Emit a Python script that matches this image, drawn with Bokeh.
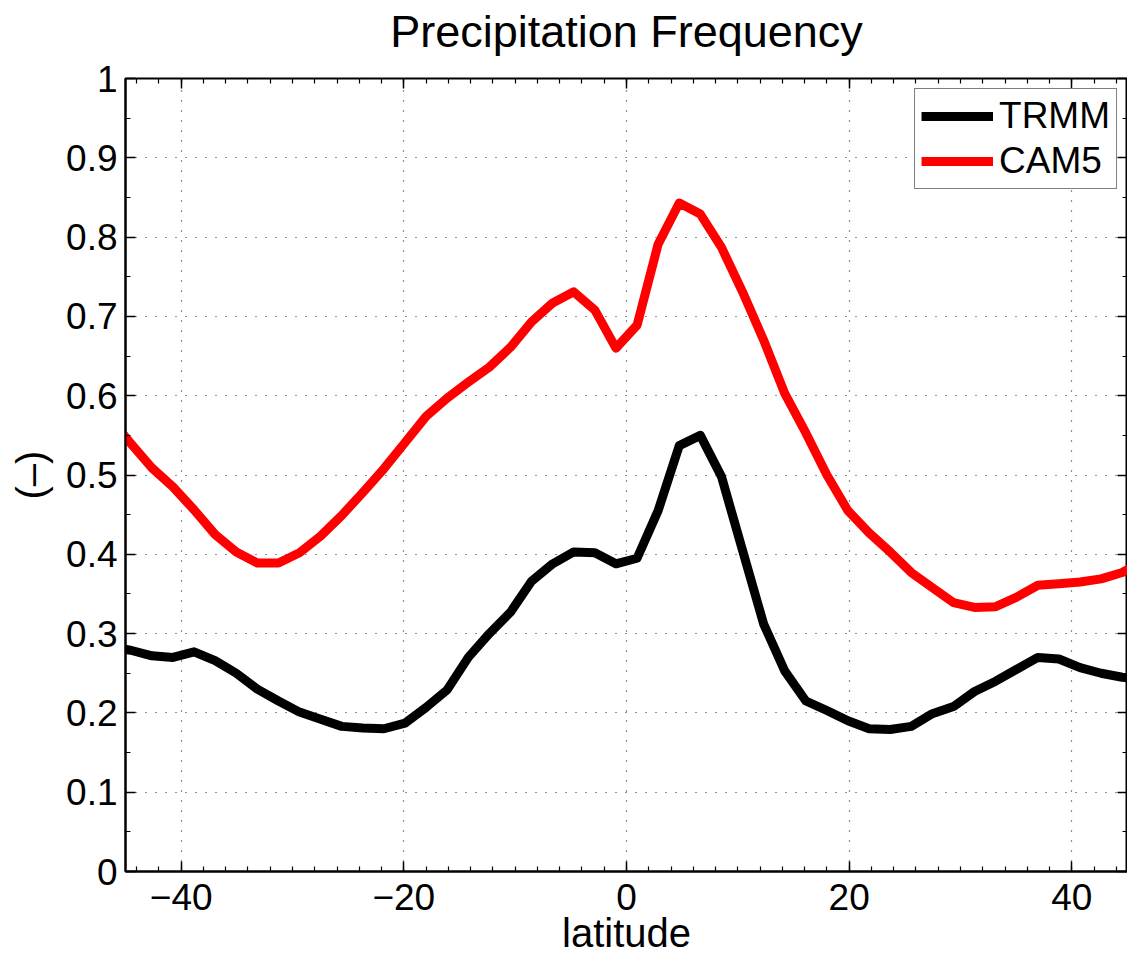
import numpy as np
from bokeh.plotting import figure
from bokeh.models import LinearAxis, FixedTicker, Legend, LegendItem, Range1d, ColumnDataSource
from bokeh.embed import file_html
from bokeh.resources import INLINE

# ---- data ----
latitude = [-46.42, -44.53, -42.63, -40.74, -38.84, -36.95, -35.05, -33.16, -31.26, -29.37,
            -27.47, -25.58, -23.68, -21.79, -19.89, -18.00, -16.11, -14.21, -12.32, -10.42,
            -8.53, -6.63, -4.74, -2.84, -0.95, 0.95, 2.84, 4.74, 6.63, 8.53,
            10.42, 12.32, 14.21, 16.11, 18.00, 19.89, 21.79, 23.68, 25.58, 27.47,
            29.37, 31.26, 33.16, 35.05, 36.95, 38.84, 40.74, 42.63, 44.53, 46.42]

trmm = [0.283, 0.279, 0.272, 0.270, 0.277, 0.266, 0.250, 0.230, 0.215, 0.201,
        0.192, 0.183, 0.181, 0.180, 0.187, 0.207, 0.229, 0.270, 0.300, 0.327,
        0.366, 0.388, 0.403, 0.402, 0.388, 0.395, 0.455, 0.537, 0.550, 0.498,
        0.405, 0.312, 0.253, 0.215, 0.203, 0.190, 0.180, 0.179, 0.183, 0.199,
        0.208, 0.227, 0.240, 0.255, 0.270, 0.268, 0.257, 0.250, 0.245, 0.242]

cam5 = [0.572, 0.540, 0.509, 0.485, 0.456, 0.425, 0.403, 0.389, 0.389, 0.402,
        0.423, 0.449, 0.478, 0.508, 0.541, 0.574, 0.597, 0.617, 0.636, 0.661,
        0.693, 0.717, 0.731, 0.708, 0.660, 0.689, 0.791, 0.843, 0.829, 0.787,
        0.731, 0.670, 0.603, 0.553, 0.500, 0.455, 0.427, 0.403, 0.377, 0.358,
        0.339, 0.333, 0.334, 0.346, 0.361, 0.363, 0.365, 0.369, 0.377, 0.392]

series_names = ["TRMM", "CAM5"]
series_colors = ["#000000", "#ff0000"]
title_text = "Precipitation Frequency"

x_ticks = [-40, -20, 0, 20, 40]
x_tick_labels = ["\u221240", "\u221220", "0", "20", "40"]
y_ticks = [0, 0.1, 0.2, 0.3, 0.4, 0.5, 0.6, 0.7, 0.8, 0.9, 1]
y_tick_labels = ["0", "0.1", "0.2", "0.3", "0.4", "0.5", "0.6", "0.7", "0.8", "0.9", "1"]

FONT = "Liberation Sans"

src = ColumnDataSource(dict(lat=latitude, trmm=trmm, cam5=cam5))

p = figure(width=1127, height=957,
           x_range=Range1d(-45, 45), y_range=Range1d(0, 1),
           output_backend="svg", toolbar_location=None,
           min_border_left=125, min_border_right=0, min_border_top=78, min_border_bottom=0,
           title=title_text)

p.background_fill_color = "white"
p.border_fill_color = "white"
p.outline_line_color = "black"
p.outline_line_width = 2

p.title.text_font = FONT
p.title.text_font_size = "45px"
p.title.text_font_style = "normal"
p.title.text_color = "black"
p.title.align = "center"
p.title.standoff = 0

x_minor = list(np.arange(-44, 45, 2))
y_minor = list(np.round(np.arange(0, 1.001, 0.05), 3))
xt = FixedTicker(ticks=x_ticks, minor_ticks=x_minor)
yt = FixedTicker(ticks=y_ticks, minor_ticks=y_minor)


def style_axis(ax, ticker):
    ax.ticker = ticker
    ax.axis_line_color = "black"
    ax.axis_line_width = 2
    ax.major_tick_in = 10
    ax.major_tick_out = 0
    ax.minor_tick_in = 5
    ax.minor_tick_out = 0
    ax.major_tick_line_color = "black"
    ax.major_tick_line_width = 1.5
    ax.minor_tick_line_color = "black"
    ax.minor_tick_line_width = 1.2
    ax.major_label_text_font = FONT
    ax.major_label_text_color = "black"
    ax.major_label_text_font_size = "37px"
    ax.axis_label_text_font = FONT
    ax.axis_label_text_font_size = "40px"
    ax.axis_label_text_font_style = "normal"
    ax.axis_label_text_color = "black"


xa = p.xaxis[0]
style_axis(xa, xt)
xa.major_label_overrides = dict(zip(x_ticks, x_tick_labels))
xa.major_label_standoff = 12
xa.axis_label = "latitude"
xa.axis_label_standoff = -2

ya = p.yaxis[0]
style_axis(ya, yt)
ya.major_label_overrides = {float(k): v for k, v in zip(y_ticks, y_tick_labels)}
ya.major_label_standoff = 8
ya.axis_label = "(\u2013)"
ya.axis_label_standoff = 10


def box_axis(ax, ticker):
    style_axis(ax, ticker)
    ax.major_label_text_font_size = "1px"
    ax.major_label_text_color = None
    ax.major_label_standoff = 0
    ax.axis_label_standoff = 0
    ax.axis_line_color = None


top = LinearAxis()
box_axis(top, xt)
p.add_layout(top, "above")

# invisible axis that only keeps a gap between the box and the title
gap_axis = LinearAxis()
box_axis(gap_axis, xt)
gap_axis.major_tick_in = 0
gap_axis.major_tick_out = 22
gap_axis.minor_tick_in = 0
gap_axis.minor_tick_out = 0
gap_axis.major_tick_line_color = None
gap_axis.minor_tick_line_color = None
p.add_layout(gap_axis, "above")

right = LinearAxis()
box_axis(right, yt)
p.add_layout(right, "right")

for g in (p.xgrid[0], p.ygrid[0]):
    g.grid_line_color = "#222222"
    g.grid_line_width = 1.2
    g.grid_line_dash = "1 9"

r1 = p.line("lat", "trmm", source=src, line_width=9, line_color=series_colors[0], line_join="round")
r2 = p.line("lat", "cam5", source=src, line_width=9, line_color=series_colors[1], line_join="round")

legend = Legend(items=[LegendItem(label=series_names[0], renderers=[r1]),
                       LegendItem(label=series_names[1], renderers=[r2])],
                location="top_right")
legend.label_text_font = FONT
legend.label_text_font_size = "37px"
legend.label_text_color = "black"
legend.border_line_color = "black"
legend.border_line_width = 1.5
legend.background_fill_color = "white"
legend.background_fill_alpha = 1
legend.glyph_width = 72
legend.glyph_height = 38
legend.label_height = 38
legend.label_standoff = 6
legend.spacing = 3
legend.padding = 6
legend.margin = 10
p.add_layout(legend)

open("out.html", "w").write(file_html(p, INLINE))
